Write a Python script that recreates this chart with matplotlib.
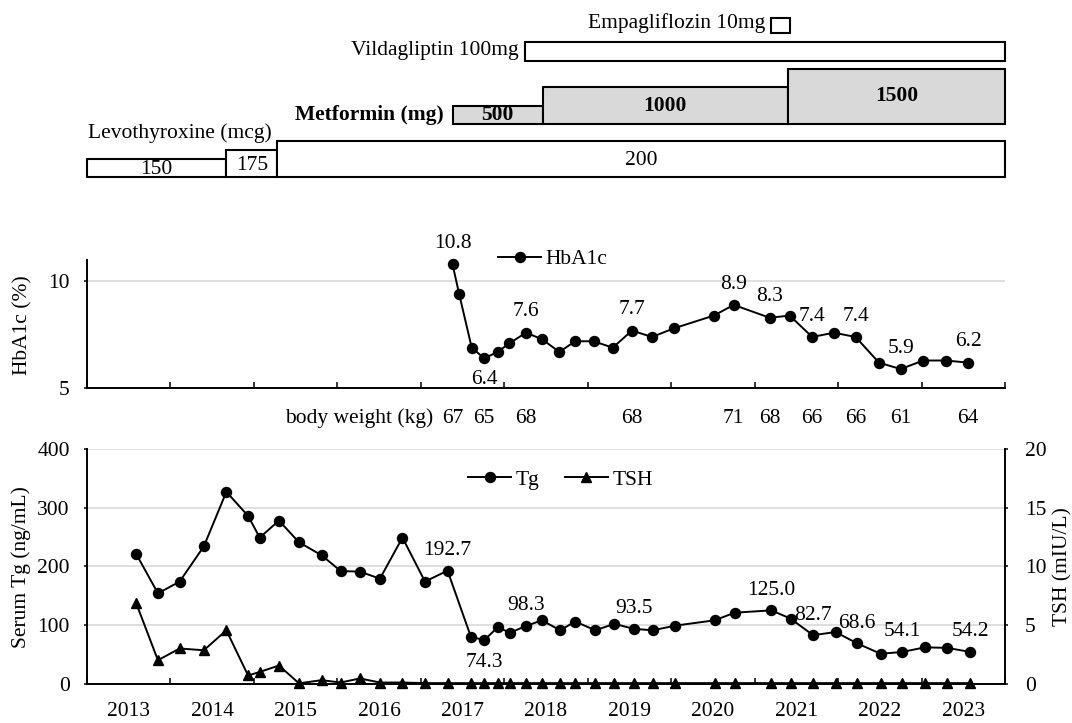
import matplotlib
matplotlib.use('Agg')
import matplotlib.pyplot as plt
import matplotlib.transforms as mtransforms

plt.rcParams['font.family'] = ['Liberation Serif', 'DejaVu Serif']
plt.rcParams['font.size'] = 15.5

# ---------------- data ----------------
# Medications (start / end in fractional years)
levo_doses = [150, 175, 200]
levo_start = [2013.0, 2014.67, 2015.28]
levo_end = [2014.67, 2015.28, 2024.0]

met_doses = [500, 1000, 1500]
met_start = [2017.38, 2018.46, 2021.40]
met_end = [2018.46, 2021.40, 2024.0]

vilda_period = [2018.25, 2024.0]
empa_period = [2021.20, 2021.42]

# HbA1c
years_h = [2017.38, 2017.46, 2017.61, 2017.76, 2017.92, 2018.06, 2018.26, 2018.45,
           2018.66, 2018.85, 2019.07, 2019.30, 2019.53, 2019.77, 2020.03, 2020.51,
           2020.75, 2021.18, 2021.42, 2021.69, 2021.95, 2022.21, 2022.49, 2022.75,
           2023.02, 2023.29, 2023.56]
hba1c = [10.8, 9.4, 6.9, 6.4, 6.7, 7.1, 7.6, 7.3, 6.7, 7.2, 7.2, 6.9, 7.7, 7.4,
         7.8, 8.4, 8.9, 8.3, 8.4, 7.4, 7.6, 7.4, 6.2, 5.9, 6.3, 6.3, 6.2]
hba1c_labeled_above = [0, 6, 12, 16, 17, 19, 21, 23, 26]
hba1c_labeled_below = [3]

# Body weight (at labelled HbA1c visits)
bw_index = [0, 3, 6, 12, 16, 17, 19, 21, 23, 26]
body_weight = [67, 65, 68, 68, 71, 68, 66, 66, 61, 64]

# Tg and TSH
years_tg = [2013.59, 2013.85, 2014.11, 2014.40, 2014.67, 2014.93, 2015.07, 2015.30,
            2015.54, 2015.81, 2016.04, 2016.27, 2016.51, 2016.78, 2017.05, 2017.32,
            2017.60, 2017.76, 2017.92, 2018.07, 2018.26, 2018.45, 2018.67, 2018.85,
            2019.09, 2019.32, 2019.55, 2019.78, 2020.05, 2020.52, 2020.76, 2021.20,
            2021.43, 2021.70, 2021.97, 2022.23, 2022.51, 2022.77, 2023.04, 2023.31,
            2023.58]
tg = [221, 154, 174, 234, 327, 286, 249, 278, 241, 219, 192, 191, 179, 249, 174,
      192.7, 80, 74.3, 96, 87, 98.3, 108, 91, 106, 91, 102, 93.5, 91, 99, 108, 121,
      125.0, 111, 82.7, 88, 68.6, 51, 54.1, 62, 61, 54.2]
tsh = [6.85, 2.0, 3.0, 2.85, 4.55, 0.7, 1.0, 1.55, 0.03, 0.3, 0.1, 0.45, 0.1, 0.1,
       0.05, 0.05, 0.05, 0.05, 0.05, 0.05, 0.05, 0.05, 0.05, 0.05, 0.05, 0.05, 0.05,
       0.05, 0.05, 0.05, 0.05, 0.05, 0.05, 0.05, 0.05, 0.05, 0.05, 0.05, 0.05, 0.05,
       0.05]
tg_labeled_above = [15, 20, 26, 31, 33, 35, 37, 40]
tg_labeled_below = [17]

year_ticks = list(range(2013, 2025))
year_labels = ['2013', '2014', '2015', '2016', '2017', '2018', '2019', '2020',
               '2021', '2022', '2023']

# ---------------- figure ----------------
W, H = 1072, 723
fig = plt.figure(figsize=(W / 100, H / 100), dpi=100)


def add_ax(left, top, right, bottom):
    return fig.add_axes([left / W, 1 - bottom / H, (right - left) / W, (bottom - top) / H])


FS = 15.5
LW = 1.4
MS = 7.2
GRID = '#d9d9d9'

# ---- medication timeline ----
ax_t = add_ax(87, 0, 1005, 190)
ax_t.set_xlim(2013, 2024)
ax_t.set_ylim(0, 190)
ax_t.axis('off')

levo_base = 12.7
levo_scale = 0.36
for d, s, e in zip(levo_doses, levo_start, levo_end):
    h = (d - 100) * levo_scale
    ax_t.bar(s, h, width=e - s, bottom=levo_base, align='edge', color='white',
             edgecolor='black', linewidth=1.5, clip_on=False)
    ax_t.text((s + e) / 2, levo_base + h / 2 - 1.5, str(d), ha='center', va='center',
              fontsize=FS)

met_base = 66.3
met_scale = 0.0363
for d, s, e in zip(met_doses, met_start, met_end):
    h = d * met_scale
    ax_t.bar(s, h, width=e - s, bottom=met_base, align='edge', color='#d9d9d9',
             edgecolor='black', linewidth=1.5, clip_on=False)
    ax_t.text((s + e) / 2, met_base + h / 2, str(d), ha='center', va='center',
              fontsize=FS, fontweight='bold')

ax_t.bar(vilda_period[0], 19, width=vilda_period[1] - vilda_period[0], bottom=129.3,
         align='edge', color='white', edgecolor='black', linewidth=1.5, clip_on=False)
ax_t.bar(empa_period[0], 15, width=empa_period[1] - empa_period[0], bottom=156.7,
         align='edge', color='white', edgecolor='black', linewidth=1.5, clip_on=False)

fig.text(88 / W, 1 - 133 / H, 'Levothyroxine (mcg)', ha='left', va='center', fontsize=FS)
fig.text(444 / W, 1 - 115 / H, 'Metformin (mg)', ha='right', va='center', fontsize=FS,
         fontweight='bold')
fig.text(519 / W, 1 - 50 / H, 'Vildagliptin 100mg', ha='right', va='center', fontsize=FS)
fig.text(765 / W, 1 - 23 / H, 'Empagliflozin 10mg', ha='right', va='center', fontsize=FS)

# ---- HbA1c panel ----
ax_h = add_ax(87, 260, 1005, 388.3)
ax_h.plot(years_h, hba1c, color='black', marker='o', ms=MS, lw=LW, label='HbA1c',
          clip_on=False, zorder=3)
ax_h.set_xlim(2013, 2024)
ax_h.set_ylim(5, 11)
ax_h.set_yticks([5, 10])
ax_h.set_xticks(year_ticks)
ax_h.set_xticklabels([])
ax_h.tick_params(axis='x', direction='in', length=4.5, width=1.1)
ax_h.tick_params(axis='y', direction='out', length=2.5, width=1.1, pad=10, labelsize=FS)
ax_h.yaxis.grid(True, color=GRID, lw=1.2)
ax_h.set_axisbelow(True)
for sp in ['top', 'right']:
    ax_h.spines[sp].set_visible(False)
for sp in ['left', 'bottom']:
    ax_h.spines[sp].set_linewidth(1.4)

for i in hba1c_labeled_above:
    ax_h.annotate(f'{hba1c[i]:.1f}', (years_h[i], hba1c[i]), xytext=(0, 15),
                  textcoords='offset points', ha='center', va='center', fontsize=FS)
for i in hba1c_labeled_below:
    ax_h.annotate(f'{hba1c[i]:.1f}', (years_h[i], hba1c[i]), xytext=(0, -15),
                  textcoords='offset points', ha='center', va='center', fontsize=FS)

ax_h.legend(loc='center left', bbox_to_anchor=(498 / W, 1 - 259 / H),
            bbox_transform=fig.transFigure, frameon=False, fontsize=FS,
            handlelength=2.0, handletextpad=0.2, borderpad=0, borderaxespad=0)

fig.text(23 / W, 1 - 325 / H, 'HbA1c (%)', rotation=90, ha='center', va='center',
         fontsize=FS)

# body weight row
bw_trans = mtransforms.blended_transform_factory(ax_h.transData, fig.transFigure)
for i, w in zip(bw_index, body_weight):
    ax_h.text(years_h[i], 1 - 418 / H, str(w), transform=bw_trans, ha='center',
              va='center', fontsize=FS)
fig.text(433 / W, 1 - 418 / H, 'body weight (kg)', ha='right', va='center', fontsize=FS)

# ---- Tg / TSH panel ----
ax_b = add_ax(87, 449, 1005, 683.7)
ax_r = ax_b.twinx()
l1, = ax_b.plot(years_tg, tg, color='black', marker='o', ms=MS, lw=LW, label='Tg',
                clip_on=False, zorder=3)
l2, = ax_r.plot(years_tg, tsh, color='black', marker='^', ms=7.8, lw=LW, label='TSH',
                clip_on=False, zorder=3)
ax_b.set_xlim(2013, 2024)
ax_b.set_ylim(0, 400)
ax_r.set_ylim(0, 20)
ax_b.set_yticks([0, 100, 200, 300, 400])
ax_r.set_yticks([0, 5, 10, 15, 20])
ax_b.set_xticks(year_ticks)
ax_b.set_xticklabels([])
ax_b.set_xticks([y + 0.5 for y in year_ticks[:-1]], minor=True)
ax_b.set_xticklabels(year_labels, minor=True)
ax_b.tick_params(axis='x', which='major', direction='in', length=4.5, width=1.1)
ax_b.tick_params(axis='x', which='minor', length=0, pad=13.5, labelsize=FS)
ax_b.tick_params(axis='y', direction='out', length=2.5, width=1.1, pad=10, labelsize=FS)
ax_r.tick_params(axis='y', direction='out', length=2.5, width=1.1, pad=12, labelsize=FS)
ax_b.yaxis.grid(True, color=GRID, lw=1.2)
ax_b.set_axisbelow(True)
for sp in ['top', 'right']:
    ax_b.spines[sp].set_visible(False)
for sp in ['top', 'left', 'bottom']:
    ax_r.spines[sp].set_visible(False)
for sp in ['left', 'bottom']:
    ax_b.spines[sp].set_linewidth(1.4)
ax_r.spines['right'].set_linewidth(1.4)

for i in tg_labeled_above:
    ax_b.annotate(f'{tg[i]:.1f}', (years_tg[i], tg[i]), xytext=(0, 14.5),
                  textcoords='offset points', ha='center', va='center', fontsize=FS)
for i in tg_labeled_below:
    ax_b.annotate(f'{tg[i]:.1f}', (years_tg[i], tg[i]), xytext=(0, -16),
                  textcoords='offset points', ha='center', va='center', fontsize=FS)

ax_r.legend([l1, l2], ['Tg', 'TSH'], loc='center left',
            bbox_to_anchor=(468 / W, 1 - 480 / H), bbox_transform=fig.transFigure,
            frameon=False, fontsize=FS, ncol=2, handlelength=2.0, handletextpad=0.2,
            columnspacing=1.2, borderpad=0, borderaxespad=0)

fig.text(21 / W, 1 - 567 / H, 'Serum Tg (ng/mL)', rotation=90, ha='center',
         va='center', fontsize=FS)
fig.text(1063 / W, 1 - 567 / H, 'TSH (mIU/L)', rotation=90, ha='center', va='center',
         fontsize=FS)

fig.savefig('out.png', dpi=100)
